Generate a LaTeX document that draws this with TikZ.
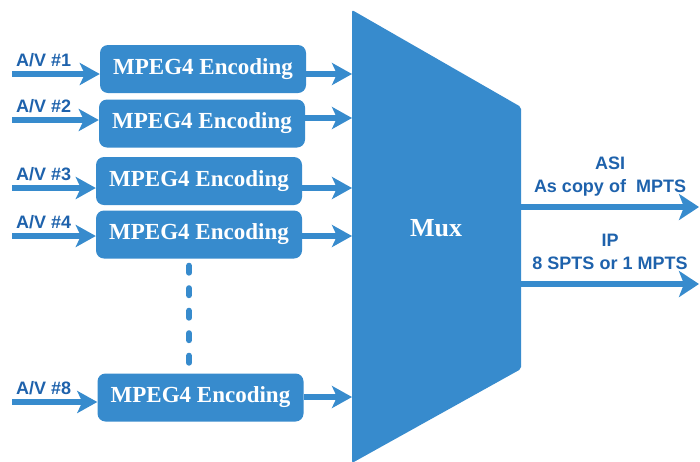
\documentclass[tikz,border=0pt]{standalone}
\usepackage{fontspec}
\usepackage{tikz}
\usetikzlibrary{arrows.meta}
\usetikzlibrary{positioning}
\newfontfamily\encfont{Liberation Serif}
\newfontfamily\avfont{Liberation Sans}
\definecolor{muxblue}{RGB}{55,139,205}
\definecolor{labelblue}{RGB}{30,98,172}

\tikzset{
	enc/.style={rectangle, rounded corners=8pt, fill=muxblue, minimum width=206pt, minimum height=48pt, inner sep=0pt, text=white, font=\encfont\bfseries\fontsize{23}{26}\selectfont},
	flow/.style={line width=6pt, draw=muxblue, -{Stealth[length=20pt,width=22pt,inset=5pt]}},
	bigflow/.style={line width=6pt, draw=muxblue, -{Stealth[length=20pt,width=26pt,inset=5pt]}},
	avlabel/.style={anchor=base west, inner sep=0pt, text=labelblue, font=\avfont\bfseries\fontsize{18}{20}\selectfont},
	outlabel/.style={inner sep=0pt, align=center, text=labelblue, font=\avfont\bfseries\fontsize{18}{23}\selectfont}
}

\begin{document}
\begin{tikzpicture}[x=1pt,y=-1pt]
				\useasboundingbox (0,0) rectangle (700,461);
				
				% multiplexer
				\fill[muxblue, rounded corners=2pt] (352,10) -- (521,107) -- (521,369) -- (352,463) -- cycle;
				\node[text=white, font=\encfont\bfseries\fontsize{26}{30}\selectfont] (mux) at (436,228) {Mux};
				\coordinate (muxin) at (352,0);
				\coordinate (muxout) at (521,0);
				
				% encoders
				\node[enc] (enc1) at (203,69) {MPEG4 Encoding};
				\node[enc] (enc2) at (202,123.5) {MPEG4 Encoding};
				\node[enc] (enc3) at (199,181) {MPEG4 Encoding};
				\node[enc] (enc4) at (199,234.5) {MPEG4 Encoding};
				\node[enc] (enc8) at (200.5,397.5) {MPEG4 Encoding};
				
				\foreach \n/\y/\z in {1/74/74, 2/120/118, 3/188/188, 4/236/236, 8/402/397}{
					\coordinate (av\n) at (12,\y);
					\coordinate (mx\n) at (352,\z);
					\draw[flow] (av\n) -- (av\n -| enc\n.west);
					\node[avlabel] (lab\n) at ([shift={(4,-8)}]av\n) {A/V \#\n};
					\draw[flow] (enc\n.east |- mx\n) -- (mx\n);
				}
				
				% dots between encoder 4 and 8
				\coordinate (dotcol) at (189,0);
				\draw[muxblue, line width=6pt, line cap=round, dash pattern=on 7pt off 15.5pt, shorten <=7pt, shorten >=8pt] (enc4.south -| dotcol) -- (enc8.north -| dotcol);
				
				% outputs
				\coordinate (asi) at (699,207);
				\coordinate (ip) at (699,284);
				\draw[bigflow] (asi -| muxout) -- (asi) node[midway, above=8pt, outlabel] (asilab) {ASI\\As copy of~ MPTS};
				\draw[bigflow] (ip -| muxout) -- (ip) node[midway, above=11pt, outlabel] (iplab) {IP\\8 SPTS or 1 MPTS};
			\end{tikzpicture}
\end{document}
